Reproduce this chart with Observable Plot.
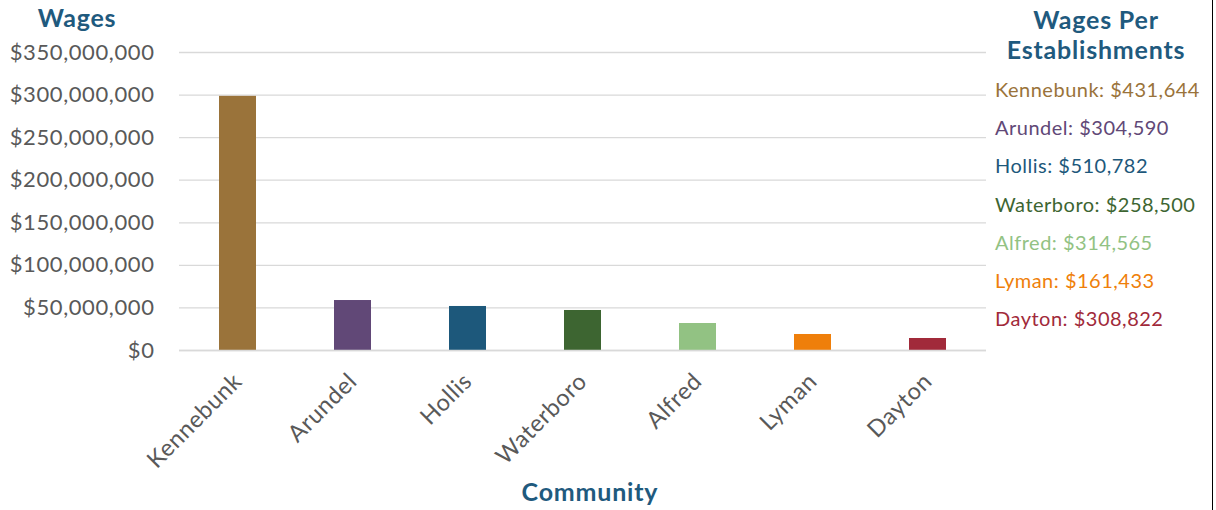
<!DOCTYPE html>
<html>
<head>
<meta charset="utf-8">
<script src="https://cdn.jsdelivr.net/npm/d3@7"></script>
<script src="https://cdn.jsdelivr.net/npm/@observablehq/plot@0.6"></script>
<style>
  html, body { margin: 0; padding: 0; background: #fff; }
  #wrap { position: relative; width: 1216px; height: 510px; font-family: Lato, "Open Sans", sans-serif; overflow: hidden; }
  #wrap svg { position: absolute; left: 0; top: 0; }
  .ttl { position: absolute; color: #1f5a7e; font-weight: 700; text-align: center; line-height: 1.2; letter-spacing: 0.8px; }
  #legend { position: absolute; left: 995px; top: 75px; }
  #legend div { font-size: 20px; letter-spacing: 0.5px; height: 38.2px; line-height: 28px; white-space: nowrap; }
  #edge { position: absolute; left: 1212px; top: 0; width: 1px; height: 510px; background: #000; }
</style>
</head>
<body>
<div id="wrap">
  <div class="ttl" style="left:7px; top:2px; width:140px; font-size:25px;">Wages</div>
  <div class="ttl" style="left:980px; top:4px; width:232px; font-size:25px; line-height:30px;">Wages Per<br>Establishments</div>
  <div class="ttl" style="left:470px; top:476px; width:240px; font-size:25px;">Community</div>
  <div id="legend"></div>
  <div id="edge"></div>
</div>
<script>
const communities = ["Kennebunk", "Arundel", "Hollis", "Waterboro", "Alfred", "Lyman", "Dayton"];
const wages = [298500000, 58700000, 51700000, 47000000, 31700000, 18800000, 14100000];
const wagesPerEstablishment = [431644, 304590, 510782, 258500, 314565, 161433, 308822];
const colors = ["#9a733a", "#614877", "#1d587b", "#3d6531", "#92c283", "#ef7f0a", "#a12a3a"];
const yTicks = [0, 50000000, 100000000, 150000000, 200000000, 250000000, 300000000, 350000000];

const data = communities.map((c, i) => ({community: c, wages: wages[i]}));
const fmt = d3.format(",");

const chart = Plot.plot({
  width: 1216,
  height: 510,
  marginLeft: 179,
  marginRight: 230,
  marginTop: 52,
  marginBottom: 160,
  style: {fontFamily: "Lato, 'Open Sans', sans-serif", fontSize: "22px", letterSpacing: "0.6px", color: "#595959", background: "transparent"},
  x: {domain: communities, paddingInner: 0.68, paddingOuter: 0.34, label: null},
  y: {domain: [0, 350000000], label: null},
  color: {domain: communities, range: colors},
  marks: [
    Plot.gridY(yTicks, {stroke: "#d9d9d9", strokeOpacity: 1, strokeWidth: 1.3}),
    Plot.barY(data, {x: "community", y: "wages", fill: "community"}),
    Plot.ruleY([0], {stroke: "#d9d9d9", strokeWidth: 1.6}),
    Plot.axisY({ticks: yTicks, tickSize: 0, tickPadding: 25, tickFormat: d => "$" + fmt(d), label: null, fill: "#595959"}),
    Plot.axisX({tickSize: 0, tickRotate: -45, tickPadding: 27, fontSize: 23.5, label: null, fill: "#595959"})
  ]
});
document.getElementById("wrap").prepend(chart);

const legend = document.getElementById("legend");
communities.forEach((c, i) => {
  const div = document.createElement("div");
  div.textContent = `${c}: $${fmt(wagesPerEstablishment[i])}`;
  div.style.color = colors[i];
  legend.appendChild(div);
});
</script>
</body>
</html>
